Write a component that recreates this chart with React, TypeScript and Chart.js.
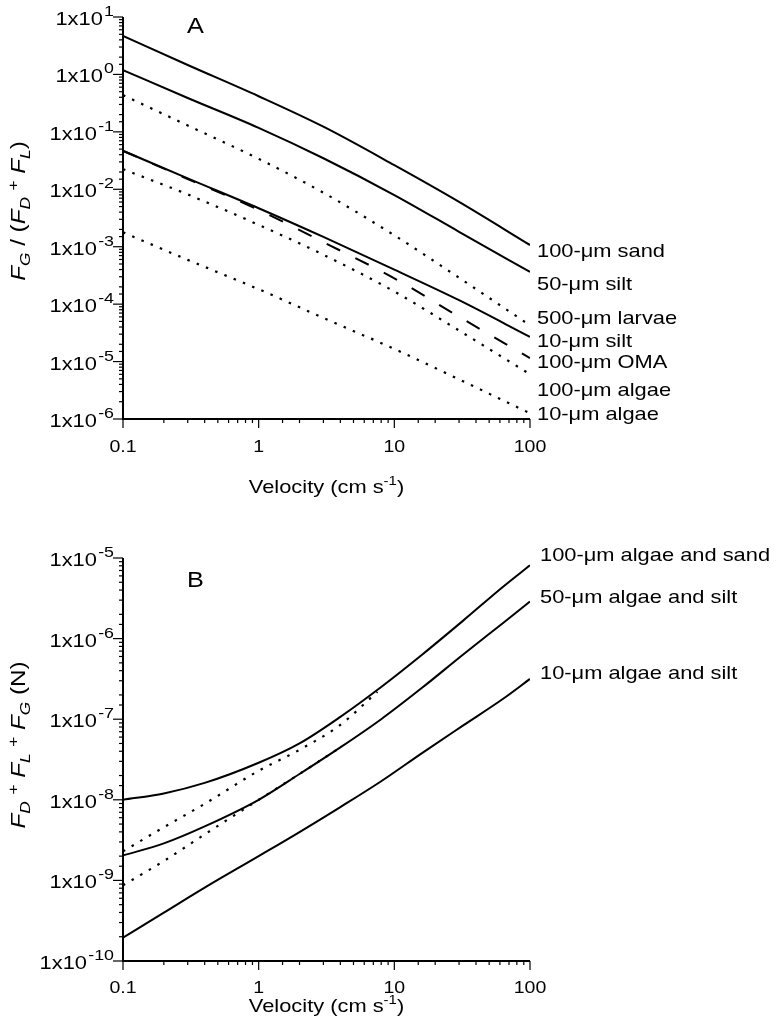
import React, { useEffect, useRef } from 'react';
import { Chart, registerables } from 'chart.js';

Chart.register(...registerables);

// ---------------- DATA ----------------
// Panel A: velocity (cm/s) and F_G/(F_D+F_L)
const VEL_A = [0.1, 0.3, 1, 3, 10, 30, 100];
const SAND_100 = [4.67, 1.46, 0.417, 0.123, 0.0263, 0.00603, 0.00107];
const SILT_50 = [1.19, 0.389, 0.1175, 0.0347, 0.00794, 0.00182, 0.000363];
const LARVAE_500 = [0.437, 0.129, 0.0339, 0.00871, 0.00158, 0.000288, 4.27e-5];
const SILT_10 = [0.0468, 0.0155, 0.00468, 0.00148, 0.000398, 0.000117, 2.69e-5];
const OMA_100 = [0.0468, 0.0151, 0.00437, 0.0012, 0.000282, 6.03e-5, 1.15e-5];
const ALGAE_100 = [0.0224, 0.00813, 0.0024, 0.000724, 0.000166, 3.47e-5, 6.03e-6];
const ALGAE_10 = [1.78e-3, 5.9e-4, 1.82e-4, 5.75e-5, 1.66e-5, 4.9e-6, 1.26e-6];
const LABELS_A = ['100-μm sand', '50-μm silt', '500-μm larvae', '10-μm silt', '100-μm OMA', '100-μm algae', '10-μm algae'];

// Panel B: velocity (cm/s) and F_D+F_L+F_G (N)
const VEL_B = [0.1, 0.2, 0.4, 1, 2, 4, 8, 16, 32, 63, 100];
const AS_100 = [1.0e-8, 1.2e-8, 1.62e-8, 2.88e-8, 5.01e-8, 1.07e-7, 2.51e-7, 6.31e-7, 1.66e-6, 4.37e-6, 8.13e-6];
const AS_50 = [2.04e-9, 2.88e-9, 4.68e-9, 1.0e-8, 2.09e-8, 4.47e-8, 1.0e-7, 2.45e-7, 6.31e-7, 1.55e-6, 2.88e-6];
const AS_10 = [1.95e-10, 3.98e-10, 8.13e-10, 2.0e-9, 3.98e-9, 8.13e-9, 1.7e-8, 3.8e-8, 8.32e-8, 1.78e-7, 3.16e-7];
const DOT_UP_V = [0.1, 0.2, 0.4, 1, 2, 4, 7.5];
const DOT_UP = [2.29e-9, 4.57e-9, 8.91e-9, 2.29e-8, 4.17e-8, 8.51e-8, 2.19e-7];
const DOT_LO_V = [0.1, 0.2, 0.4, 1, 2, 4];
const DOT_LO = [8.7e-10, 1.74e-9, 3.72e-9, 1.0e-8, 2.09e-8, 4.47e-8];
const LABELS_B = ['100-μm algae and sand', '50-μm algae and silt', '10-μm algae and silt'];

// ---------------- LAYOUT / STYLE ----------------
const W = 777;
const H_A = 510;
const H_B = 526;
const AXIS_LEFT = 123;
const AXIS_RIGHT = 530;
const A_TOP = 17;
const A_BOTTOM = 419;
const B_TOP = 48;
const B_BOTTOM = 451;
const LABEL_A_Y = [250, 283, 317, 340, 361, 389, 413];
const LABEL_B_Y = [44, 86, 162];
const FONT = '"Liberation Sans", Arial, Helvetica, sans-serif';
const HS = 1.15;

type Run = { t: string; size: number; dy?: number; italic?: boolean };

function fontOf(r: Run) {
  return `${r.italic ? 'italic ' : ''}${r.size}px ${FONT}`;
}

function drawRich(ctx: CanvasRenderingContext2D, runs: Run[], x: number, y: number, align: 'left' | 'right' | 'center') {
  let total = 0;
  const widths = runs.map((r) => {
    ctx.font = fontOf(r);
    const w = ctx.measureText(r.t).width;
    total += w;
    return w;
  });
  ctx.save();
  ctx.translate(x, y);
  ctx.scale(HS, 1);
  ctx.textAlign = 'left';
  ctx.textBaseline = 'alphabetic';
  let cx = align === 'left' ? 0 : align === 'right' ? -total : -total / 2;
  runs.forEach((r, i) => {
    ctx.font = fontOf(r);
    ctx.fillText(r.t, cx, r.dy || 0);
    cx += widths[i];
  });
  ctx.restore();
}

function isMajor(v: number) {
  const l = Math.log10(v);
  return Math.abs(l - Math.round(l)) < 1e-6;
}

function xLabel(v: number) {
  return v < 1 ? v.toFixed(1) : String(Math.round(v));
}

type Extras = {
  labels: string[];
  labelY: number[];
  labelX: number;
  letter: string;
  letterY: number;
  yTitle: Run[];
  yTitleY: number;
  xTitleY: number;
  xTickY: number;
};

function makePlugin(ex: Extras) {
  return {
    id: 'customAxes' + ex.letter,
    afterDraw(chart: any) {
      const ctx: CanvasRenderingContext2D = chart.ctx;
      const xs = chart.scales.x;
      const ys = chart.scales.y;
      const { left, right, top, bottom } = chart.chartArea;
      ctx.save();
      ctx.strokeStyle = '#000';
      ctx.fillStyle = '#000';
      // axes
      ctx.lineWidth = 2;
      ctx.beginPath();
      ctx.moveTo(left, top);
      ctx.lineTo(left, bottom);
      ctx.lineTo(right, bottom);
      ctx.stroke();
      ctx.lineWidth = 1.2;
      // y ticks
      for (const t of ys.ticks) {
        const py = ys.getPixelForValue(t.value);
        const maj = isMajor(t.value);
        ctx.beginPath();
        ctx.moveTo(left, py);
        ctx.lineTo(left - (maj ? 10 : 4), py);
        ctx.stroke();
        if (maj) {
          const e = Math.round(Math.log10(t.value));
          drawRich(ctx, [{ t: '1x10', size: 19 }, { t: ' ', size: 4 }, { t: String(e), size: 15.5, dy: -9 }], 114, py + 8, 'right');
        }
      }
      // x ticks
      for (const t of xs.ticks) {
        const px = xs.getPixelForValue(t.value);
        const maj = isMajor(t.value);
        ctx.beginPath();
        ctx.moveTo(px, bottom);
        ctx.lineTo(px, bottom + (maj ? 9 : 4));
        ctx.stroke();
        if (maj) {
          drawRich(ctx, [{ t: xLabel(t.value), size: 17 }], px, ex.xTickY, 'center');
        }
      }
      // x title
      drawRich(
        ctx,
        [{ t: 'Velocity (cm s', size: 19 }, { t: '-1', size: 13, dy: -8 }, { t: ')', size: 19 }],
        (left + right) / 2,
        ex.xTitleY,
        'center'
      );
      // y title (rotated)
      ctx.save();
      ctx.translate(25, ex.yTitleY);
      ctx.rotate(-Math.PI / 2);
      drawRich(ctx, ex.yTitle, 0, 0, 'center');
      ctx.restore();
      // panel letter
      drawRich(ctx, [{ t: ex.letter, size: 22 }], 187, ex.letterY, 'left');
      // series labels
      ex.labels.forEach((s, i) => {
        drawRich(ctx, [{ t: s, size: 19 }], ex.labelX, ex.labelY[i] + 7, 'left');
      });
      ctx.restore();
    },
  };
}

function pts(xs: number[], ys: number[]) {
  return xs.map((x, i) => ({ x, y: ys[i] }));
}

const BASE = { borderColor: '#000', pointRadius: 0, cubicInterpolationMode: 'monotone', fill: false };

function solid(xs: number[], ys: number[]) {
  return { ...BASE, data: pts(xs, ys), borderWidth: 2 };
}
function dotted(xs: number[], ys: number[]) {
  return { ...BASE, data: pts(xs, ys), borderWidth: 2.2, borderDash: [2.5, 7.5] };
}
function dashed(xs: number[], ys: number[]) {
  return { ...BASE, data: pts(xs, ys), borderWidth: 2, borderDash: [15, 17] };
}

function makeConfig(datasets: any[], yMin: number, yMax: number, top: number, bottom: number, height: number, plugin: any): any {
  return {
    type: 'line',
    data: { datasets },
    options: {
      animation: false,
      responsive: false,
      devicePixelRatio: 1,
      layout: { padding: { left: 0, right: W - AXIS_RIGHT, top, bottom: 0 } },
      plugins: { legend: { display: false }, tooltip: { enabled: false } },
      scales: {
        x: {
          type: 'logarithmic',
          min: 0.1,
          max: 100,
          ticks: { display: false },
          grid: { display: false },
          border: { display: false },
          afterFit: (s: any) => {
            s.height = height - bottom;
          },
        },
        y: {
          type: 'logarithmic',
          min: yMin,
          max: yMax,
          ticks: { display: false },
          grid: { display: false },
          border: { display: false },
          afterFit: (s: any) => {
            s.width = AXIS_LEFT;
          },
        },
      },
    },
    plugins: [plugin],
  };
}

export default function App() {
  const refA = useRef<HTMLCanvasElement>(null);
  const refB = useRef<HTMLCanvasElement>(null);

  useEffect(() => {
    const plugA = makePlugin({
      labels: LABELS_A,
      labelY: LABEL_A_Y,
      labelX: 537,
      letter: 'A',
      letterY: 33,
      yTitle: [
        { t: 'F', size: 21, italic: true },
        { t: 'G', size: 15, dy: 5, italic: true },
        { t: ' / (', size: 21 },
        { t: 'F', size: 21, italic: true },
        { t: 'D', size: 15, dy: 5, italic: true },
        { t: ' ', size: 21 },
        { t: '+', size: 15, dy: -7 },
        { t: ' ', size: 21 },
        { t: 'F', size: 21, italic: true },
        { t: 'L', size: 15, dy: 5, italic: true },
        { t: ')', size: 21 },
      ],
      yTitleY: 211,
      xTitleY: 493,
      xTickY: 452,
    });
    const plugB = makePlugin({
      labels: LABELS_B,
      labelY: LABEL_B_Y,
      labelX: 540,
      letter: 'B',
      letterY: 77,
      yTitle: [
        { t: 'F', size: 21, italic: true },
        { t: 'D', size: 15, dy: 5, italic: true },
        { t: ' ', size: 21 },
        { t: '+', size: 15, dy: -7 },
        { t: ' ', size: 21 },
        { t: 'F', size: 21, italic: true },
        { t: 'L', size: 15, dy: 5, italic: true },
        { t: ' ', size: 21 },
        { t: '+', size: 15, dy: -7 },
        { t: ' ', size: 21 },
        { t: 'F', size: 21, italic: true },
        { t: 'G', size: 15, dy: 5, italic: true },
        { t: ' (N)', size: 21 },
      ],
      yTitleY: 235,
      xTitleY: 502,
      xTickY: 483,
    });

    const dsA = [
      solid(VEL_A, SAND_100),
      solid(VEL_A, SILT_50),
      dotted(VEL_A, LARVAE_500),
      solid(VEL_A, SILT_10),
      dashed(VEL_A, OMA_100),
      dotted(VEL_A, ALGAE_100),
      dotted(VEL_A, ALGAE_10),
    ];
    const dsB = [
      solid(VEL_B, AS_100),
      solid(VEL_B, AS_50),
      solid(VEL_B, AS_10),
      dotted(DOT_UP_V, DOT_UP),
      dotted(DOT_LO_V, DOT_LO),
    ];

    const a = new Chart(refA.current as HTMLCanvasElement, makeConfig(dsA, 1e-6, 10, A_TOP, A_BOTTOM, H_A, plugA));
    const b = new Chart(refB.current as HTMLCanvasElement, makeConfig(dsB, 1e-10, 1e-5, B_TOP, B_BOTTOM, H_B, plugB));
    return () => {
      a.destroy();
      b.destroy();
    };
  }, []);

  return (
    <div style={{ position: 'absolute', left: 0, top: 0, width: W, height: 1036, background: '#fff' }}>
      <canvas ref={refA} width={W} height={H_A} style={{ position: 'absolute', left: 0, top: 0 }} />
      <canvas ref={refB} width={W} height={H_B} style={{ position: 'absolute', left: 0, top: H_A }} />
    </div>
  );
}
